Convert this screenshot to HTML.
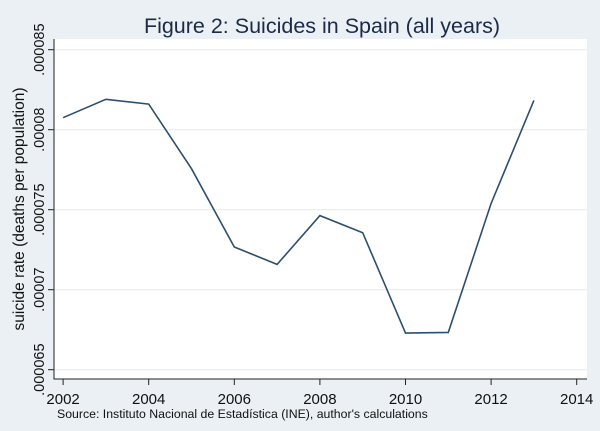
<!DOCTYPE html>
<html><head><meta charset="utf-8"><style>
body{margin:0;background:#eaf0f3;}
svg{display:block;font-family:"Liberation Sans",sans-serif;}
</style></head><body>
<svg width="600" height="431" viewBox="0 0 600 431">
<rect x="0" y="0" width="600" height="431" fill="#eaf0f3"/>
<rect x="54" y="39" width="533" height="340" fill="#ffffff"/>
<text x="322" y="33" text-anchor="middle" font-size="21.5" fill="#1c2a48">Figure 2: Suicides in Spain (all years)</text>
<g id="grid"></g>
<g id="axes"></g>
<path id="line" fill="none" stroke="#2c4f70" stroke-width="1.6"/>
<text transform="translate(24,209) rotate(-90)" text-anchor="middle" font-size="15.5" fill="#111">suicide rate (deaths per population)</text>
<text x="57" y="418" font-size="12.3" fill="#111">Source: Instituto Nacional de Estadística (INE), author's calculations</text>
</svg>
<script>
const years=[2002,2003,2004,2005,2006,2007,2008,2009,2010,2011,2012,2013];
const rates=[0.00008075,0.0000819,0.0000816,0.00007756,0.00007267,0.00007158,0.00007463,0.00007356,0.00006729,0.00006733,0.00007539,0.00008183];
const xTicks=[2002,2004,2006,2008,2010,2012,2014];
const yTicks=[0.000065,0.00007,0.000075,0.00008,0.000085];
const yLabels=[".000065",".00007",".000075",".00008",".000085"];
const NS="http://www.w3.org/2000/svg";
const sx=v=>63.1+(v-2002)*(576.7-63.1)/12;
const sy=v=>369.7-(v-0.000065)/0.000005*80;
const grid=document.getElementById('grid'),axes=document.getElementById('axes');
function mk(tag,attrs,parent){const e=document.createElementNS(NS,tag);for(const k in attrs)e.setAttribute(k,attrs[k]);parent.appendChild(e);return e;}
yTicks.forEach((t,i)=>{
 const y=sy(t);
 const g=mk('line',{x1:54,x2:587,y1:y,y2:y,stroke:'#e6eef1','stroke-width':1.2},grid);
 
 
 const tk=mk('line',{x1:48,x2:54,y1:y,y2:y,stroke:'#222','stroke-width':1},axes);
 
 
 const tx=mk('text',{transform:`translate(44,${y}) rotate(-90)`,'text-anchor':'middle','font-size':'14.5',fill:'#111'},axes);
 tx.textContent=yLabels[i];
 
 
});
xTicks.forEach(t=>{
 const x=sx(t);
 const tk=mk('line',{x1:x,x2:x,y1:379,y2:385,stroke:'#222','stroke-width':1},axes);
 
 
 const tx=mk('text',{x:x,y:404,'text-anchor':'middle','font-size':'15',fill:'#111'},axes);
 tx.textContent=t;
 
 
});
const ya=mk('line',{x1:54,x2:54,y1:39,y2:379.5,stroke:'#222','stroke-width':1},axes);


const xa=mk('line',{x1:53.5,x2:587,y1:379,y2:379,stroke:'#222','stroke-width':1},axes);


document.getElementById('line').setAttribute('d',years.map((y,i)=>(i?'L':'M')+sx(y).toFixed(1)+','+sy(rates[i]).toFixed(1)).join(''));
</script>
</body></html>
